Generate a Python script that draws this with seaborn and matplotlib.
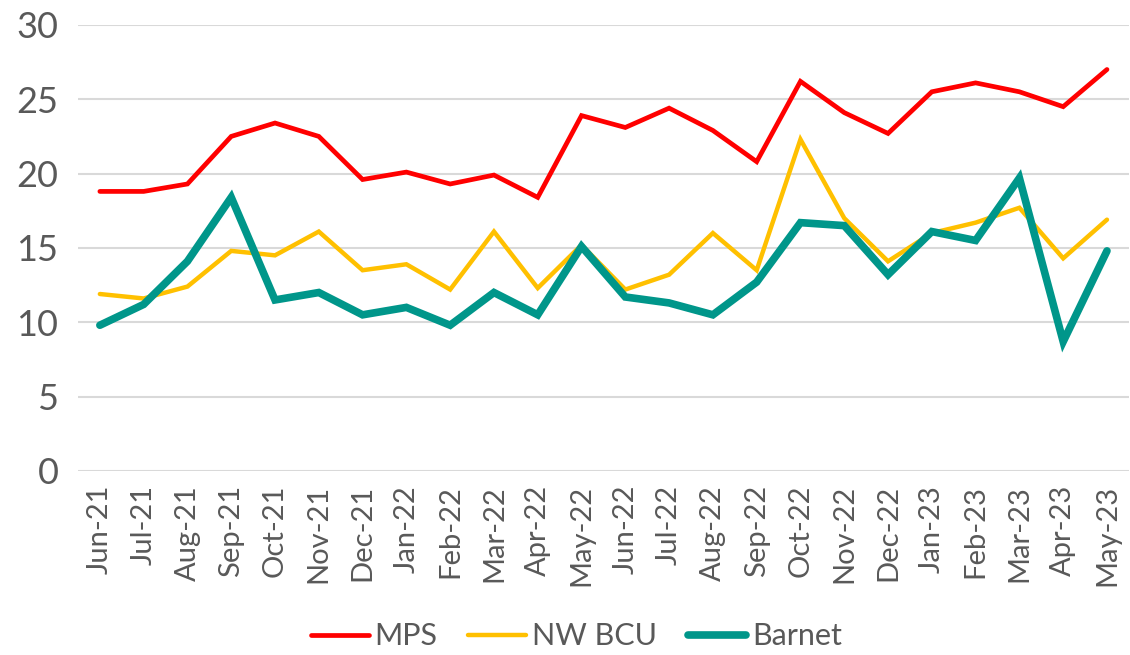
import pandas as pd
import matplotlib.pyplot as plt
import seaborn as sns

# Datos
meses = ["Jun-21", "Jul-21", "Aug-21", "Sep-21", "Oct-21", "Nov-21", "Dec-21", "Jan-22",
         "Feb-22", "Mar-22", "Apr-22", "May-22", "Jun-22", "Jul-22", "Aug-22", "Sep-22",
         "Oct-22", "Nov-22", "Dec-22", "Jan-23", "Feb-23", "Mar-23", "Apr-23", "May-23"]
mps = [18.8, 18.8, 19.3, 22.5, 23.4, 22.5, 19.6, 20.1, 19.3, 19.9, 18.4, 23.9,
       23.1, 24.4, 22.9, 20.8, 26.2, 24.1, 22.7, 25.5, 26.1, 25.5, 24.5, 27.0]
nw_bcu = [11.9, 11.6, 12.4, 14.8, 14.5, 16.1, 13.5, 13.9, 12.2, 16.1, 12.3, 15.2,
          12.2, 13.2, 16.0, 13.5, 22.3, 17.0, 14.1, 16.0, 16.7, 17.7, 14.3, 16.9]
barnet = [9.8, 11.2, 14.1, 18.4, 11.5, 12.0, 10.5, 11.0, 9.8, 12.0, 10.5, 15.1,
          11.7, 11.3, 10.5, 12.7, 16.7, 16.5, 13.2, 16.1, 15.5, 19.7, 8.7, 14.8]

series = {"MPS": mps, "NW BCU": nw_bcu, "Barnet": barnet}
colores = {"MPS": "#FF0000", "NW BCU": "#FFC000", "Barnet": "#00968A"}
grosor = {"MPS": 3.4, "NW BCU": 3.2, "Barnet": 5.5}

df = pd.DataFrame({"mes": meses * 3,
                   "serie": [s for s in series for _ in meses],
                   "valor": mps + nw_bcu + barnet})

sns.set_style("white")
plt.rcParams["font.family"] = ["Lato", "DejaVu Sans"]
gris = "#595959"

fig, ax = plt.subplots(figsize=(11.3, 6.55), dpi=100)
fig.subplots_adjust(left=0.069, right=0.999, top=0.962, bottom=0.281)

for nombre in series:
    sns.lineplot(data=df[df["serie"] == nombre], x="mes", y="valor", color=colores[nombre],
                 linewidth=grosor[nombre], label=nombre, ax=ax, sort=False,
                 solid_capstyle="round", solid_joinstyle="miter")

ax.set_xlim(-0.5, len(meses) - 0.5)
ax.set_ylim(0, 30)
ax.set_yticks(range(0, 31, 5))
ax.set_xticks(range(len(meses)))
ax.set_xticklabels(meses, rotation=90, fontsize=21, color=gris)
ax.tick_params(axis="y", labelsize=26, labelcolor=gris, length=0, pad=14)
ax.tick_params(axis="x", length=0, pad=10)
ax.set_xlabel("")
ax.set_ylabel("")
ax.grid(axis="y", color="#D9D9D9", linewidth=1.5)
ax.set_axisbelow(True)
for lado in ["top", "right", "left", "bottom"]:
    ax.spines[lado].set_visible(False)

ax.get_legend().remove()
handles, labels = ax.get_legend_handles_labels()
leg = fig.legend(handles, labels, loc="lower center", ncol=3, frameon=False,
                 bbox_to_anchor=(0.51, -0.035), fontsize=22, handlelength=1.9,
                 handletextpad=0.2, columnspacing=1.0)
for t in leg.get_texts():
    t.set_color(gris)

plt.savefig("out.png")
